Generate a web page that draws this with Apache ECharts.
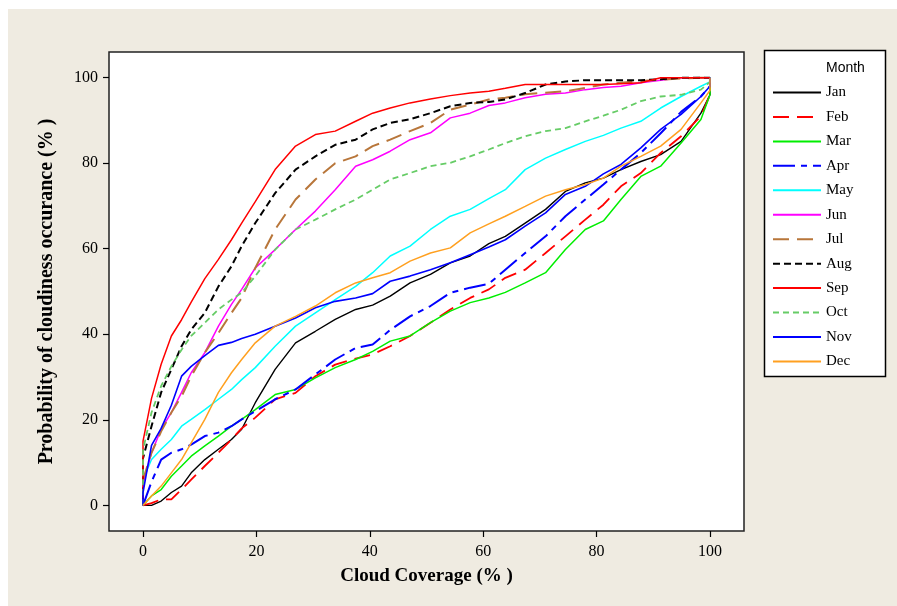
<!DOCTYPE html>
<html>
<head>
<meta charset="utf-8">
<script src="https://cdn.jsdelivr.net/npm/echarts@6/dist/echarts.min.js"></script>
<style>
html,body{margin:0;padding:0;background:#fff;}
#chart{width:897px;height:606px;background:linear-gradient(#efebe1,#efebe1) no-repeat 8px 9px / 889px 597px,#fff;}
</style>
</head>
<body>
<div id="chart"></div>
<script>
// Cloud coverage (%) sample positions
const xs = [0, 1.5, 3.2, 5, 6.8, 8.5, 10.9, 13.3, 15.6, 17.4, 19.8, 23.3, 26.9, 30.4, 33.9, 37.5, 40.5, 43.6, 47.1, 50.7, 54.2, 57.7, 61, 63.9, 67.4, 71, 74.5, 78, 81.2, 84.3, 87.8, 91.3, 94.9, 98.4, 100];
const months = ['Jan','Feb','Mar','Apr','May','Jun','Jul','Aug','Sep','Oct','Nov','Dec'];
// Probability of cloudiness occurance (%) per month at xs
const jan = [0, 0, 1, 3, 4.5, 7.6, 10.7, 13.1, 15.4, 17.8, 24, 31.8, 38, 40.7, 43.5, 45.8, 46.8, 48.9, 52, 54, 56.7, 58.3, 61.2, 62.9, 66, 69.2, 73.4, 75.4, 76.5, 78.5, 80.4, 82, 85.1, 91.7, 96];
const feb = [0, 0.5, 1.4, 1.4, 3.7, 6, 9.2, 12.3, 15.4, 18, 20.5, 24.8, 26.3, 30.2, 32.9, 34.3, 35.3, 37.2, 39.6, 42.7, 45.8, 48.5, 50.5, 53.2, 55.1, 59, 62.9, 66.8, 70.3, 74.6, 77.7, 82.4, 86.3, 91, 96];
const mar = [0, 2.2, 3.7, 6.8, 9.2, 11.5, 13.9, 16.2, 18.5, 20.1, 22.4, 25.9, 27.1, 29.8, 32.2, 34.1, 36, 38.4, 39.6, 42.7, 45.4, 47.4, 48.5, 49.8, 52, 54.4, 59.8, 64.5, 66.5, 71.5, 76.9, 79.3, 84.7, 90.2, 96];
const apr = [0, 5.5, 10.7, 12.3, 13.1, 14.2, 16.2, 17, 18.5, 20.1, 22, 24.8, 27.1, 30.6, 34.1, 36.8, 37.6, 41, 44.2, 46.6, 49.7, 50.9, 51.8, 55.1, 59, 62.9, 67.6, 71.5, 75, 78.5, 82.4, 87, 92, 95.6, 98];
const may = [6, 10.7, 13.1, 15.4, 18.5, 20.1, 22.4, 24.8, 27.1, 29.4, 32.2, 37.2, 41.9, 45, 48.1, 51.2, 54.4, 58.3, 60.6, 64.5, 67.6, 69.2, 71.7, 73.8, 78.5, 81.2, 83.2, 85.1, 86.5, 88.2, 89.8, 92.9, 95.6, 98, 99];
const jun = [5, 12.3, 17.8, 21.7, 26.4, 31, 35.7, 41.9, 47, 50.5, 55.5, 59.8, 64.5, 68.8, 73.8, 79.3, 80.8, 82.8, 85.5, 87.1, 90.6, 91.7, 93.5, 94.1, 95.3, 96.1, 96.4, 97.2, 97.7, 98, 98.8, 99.4, 100, 100, 100];
const jul = [6, 12.3, 17.3, 21.7, 25.5, 30.2, 35.7, 40.3, 45, 48.5, 55.5, 64.5, 71.5, 76.2, 80, 81.6, 84, 85.5, 87.5, 89.4, 92.5, 93.7, 94.9, 95.3, 96.1, 96.5, 96.8, 97.6, 98.4, 98.8, 99.2, 99.5, 99.8, 100, 100];
const aug = [11, 18.5, 26.4, 31.8, 37.2, 41.1, 45, 51.2, 55.9, 60.6, 66, 73, 78.5, 81.6, 84.3, 85.5, 87.9, 89.4, 90.3, 91.7, 93.3, 94.1, 94.3, 94.9, 96.4, 98.4, 99.1, 99.4, 99.4, 99.4, 99.4, 99.6, 100, 100, 100];
const sep = [15, 25, 33, 39.6, 43.4, 47.5, 53, 57.5, 62.1, 66, 71, 78.5, 84, 86.7, 87.5, 89.8, 91.7, 92.9, 94.1, 95, 95.8, 96.4, 96.8, 97.5, 98.4, 98.4, 98.4, 98.4, 98.4, 98.6, 98.8, 100, 100, 100, 100];
const oct = [13, 21.7, 27.9, 32.5, 36.4, 39.6, 42.7, 45.8, 48.1, 49.7, 53.6, 59.8, 64.5, 66.8, 69.2, 71.5, 73.8, 76.2, 77.7, 79.3, 80.1, 81.6, 83.2, 84.7, 86.3, 87.5, 88.2, 89.8, 91.1, 92.5, 94.5, 95.6, 96, 97.2, 99];
const nov = [3, 14, 18, 23.4, 30.2, 32.5, 35, 37.4, 38.1, 39, 40, 41.9, 43.8, 46.2, 47.7, 48.5, 49.5, 52.4, 53.6, 55.1, 56.7, 58.6, 60.4, 62.1, 65.3, 68.4, 72.7, 74.6, 77.5, 79.7, 83.6, 87.9, 91.4, 95.6, 98];
const dec = [0, 2.2, 4.5, 7.6, 10.7, 14.6, 20.1, 26.4, 31, 34.1, 38, 41.9, 44.2, 46.6, 49.7, 52, 53.2, 54.4, 57.1, 59, 60.2, 63.7, 65.8, 67.6, 69.9, 72.3, 73.8, 75, 76.5, 79.3, 81.6, 84, 87.9, 94.1, 97];
const tickValues = [0, 20, 40, 60, 80, 100];

const values = [jan, feb, mar, apr, may, jun, jul, aug, sep, oct, nov, dec];
const colors = ['#000000','#ff0000','#00ee00','#0000ff','#00ffff','#ff00ff','#b8763a','#000000','#ff0000','#66cc66','#0000ff','#ffa020'];
const dashes = ['solid',[16,8],'solid',[22,6,6,6],'solid','solid',[16,8],[7,4],'solid',[6,4],'solid','solid'];
const widths = [1.4,1.8,1.5,2,1.5,1.5,2,2,1.5,1.8,1.6,1.5];

const series = months.map((m, i) => {
  const d = [[0, 0]];
  xs.forEach((x, j) => d.push([x, values[i][j]]));
  d.push([100, 100]);
  return {
    name: m, type: 'line', data: d, symbol: 'none', showSymbol: false,
    color: colors[i],
    lineStyle: {color: colors[i], width: widths[i], type: dashes[i]},
    animation: false, z: 2 + i * 0.01
  };
});

const chart = echarts.init(document.getElementById('chart'), null, {renderer: 'canvas'});
chart.setOption({
  backgroundColor: 'transparent',
  animation: false,
  grid: {left: 109, right: 153, top: 52, bottom: 75, show: true, backgroundColor: '#fff', borderColor: '#222', borderWidth: 1.5},
  xAxis: {
    type: 'value', min: -6, max: 106,
    name: 'Cloud Coverage (% )', nameLocation: 'middle', nameGap: 36,
    nameTextStyle: {fontFamily: 'Liberation Serif', fontWeight: 'bold', fontSize: 19, color: '#000'},
    axisLine: {show: false, onZero: false},
    axisTick: {show: true, inside: false, length: 6, lineStyle: {color: '#000', width: 1.2}, customValues: tickValues},
    axisLabel: {customValues: tickValues, margin: 13, fontFamily: 'Liberation Serif', fontSize: 16, color: '#000'},
    splitLine: {show: false}
  },
  yAxis: {
    type: 'value', min: -6, max: 106,
    name: 'Probability of cloudiness occurance (% )', nameLocation: 'middle', nameGap: 52,
    nameTextStyle: {fontFamily: 'Liberation Serif', fontWeight: 'bold', fontSize: 20, color: '#000'},
    axisLine: {show: false, onZero: false},
    axisTick: {show: true, inside: false, length: 6, lineStyle: {color: '#000', width: 1.2}, customValues: tickValues},
    axisLabel: {customValues: tickValues, margin: 11, fontFamily: 'Liberation Serif', fontSize: 16, color: '#000'},
    splitLine: {show: false}
  },
  legend: {
    orient: 'vertical', left: 772, top: 85, z: 10,
    itemWidth: 48, itemHeight: 14, itemGap: 9.45, padding: 0,
    data: months,
    itemStyle: {opacity: 0, borderWidth: 0},
    textStyle: {fontFamily: 'Liberation Serif', fontSize: 15, color: '#000', lineHeight: 14}
  },
  graphic: [
    {type: 'rect', z: 5, shape: {x: 764.5, y: 50.5, width: 121, height: 326}, style: {fill: '#fff', stroke: '#000', lineWidth: 1.5}},
    {type: 'text', z: 11, x: 826, y: 68, style: {text: 'Month', font: '14px "Liberation Sans"', fill: '#000', verticalAlign: 'middle'}}
  ],
  series: series
});
</script>
</body>
</html>
